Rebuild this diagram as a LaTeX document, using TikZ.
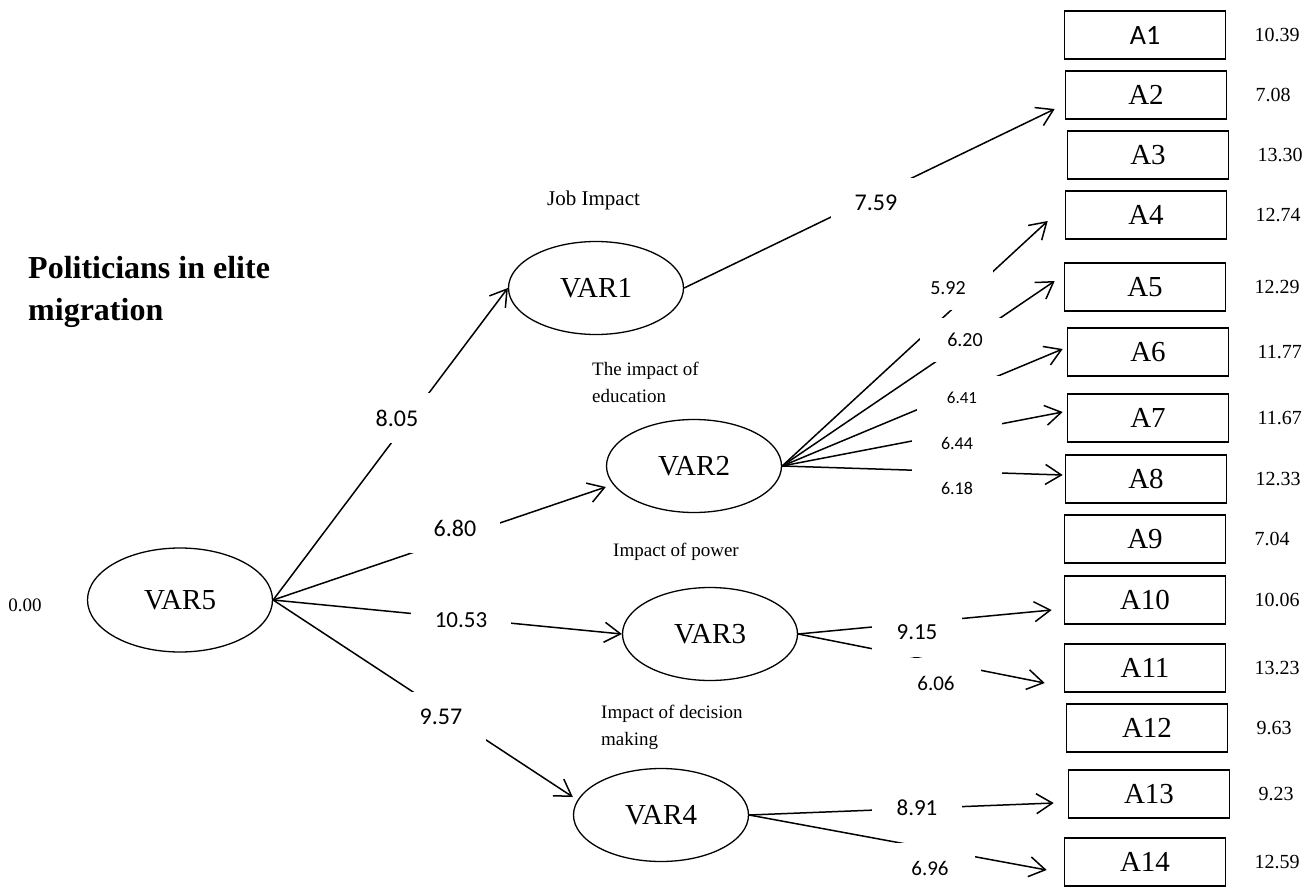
\documentclass[tikz,border=0pt]{standalone}
\usepackage{fontspec}
\setmainfont{Liberation Serif}
\newfontfamily\carlito{Carlito}
\usepackage{tikz}
\usetikzlibrary{shapes.geometric,arrows.meta,positioning}

\tikzset{
  latent/.style={ellipse, draw, line width=1.3pt, minimum width=175pt, minimum height=93pt, inner sep=0pt, font=\fontsize{29}{29}\selectfont},
  item/.style={rectangle, draw, line width=1.6pt, minimum width=161pt, minimum height=48pt, inner sep=0pt, font=\fontsize{29}{29}\selectfont},
  errv/.style={inner sep=0pt, font=\fontsize{20}{20}\selectfont},
  link/.style={line width=1.5pt, -{Straight Barb[length=16pt,width=20pt]}},
  coef/.style={fill=white, minimum width=90pt, minimum height=50pt, inner sep=0pt, font=\carlito\fontsize{#1}{#1}\selectfont},
  coef/.default=24,
  fan/.style={coef=#1, minimum height=44pt},
  fan/.default=19,
  tag/.style={anchor=west, align=left, inner sep=0pt, font=\fontsize{19}{27}\selectfont}
}

\begin{document}
\begin{tikzpicture}[x=1pt, y=-1pt, node distance=28pt]
    \useasboundingbox (0,0) rectangle (1314,888);

    % title and latent variables
    \node[anchor=west, align=left, inner sep=0pt, font=\bfseries\fontsize{32}{42}\selectfont] (title) at (28,292) {Politicians in elite\\migration};
    \node[inner sep=0pt, font=\fontsize{19}{19}\selectfont] (zero) at (25,605) {0.00};
    \node[latent, minimum width=185pt, minimum height=104pt] (var5) at (180,600) {VAR5};
    \node[latent] (var1) at (596,288) {VAR1};
    \node[latent] (var2) at (694,466) {VAR2};
    \node[latent] (var3) at (710,634) {VAR3};
    \node[latent] (var4) at (661,815) {VAR4};

    \node[tag, font=\fontsize{21}{27}\selectfont] (jobtag) at (547,200) {Job Impact};
    \node[tag] (edutag) at (592,382) {The impact of\\education};
    \node[tag] (powtag) at (613,552) {Impact of power};
    \node[tag] (dectag) at (601,727) {Impact of decision\\making};

    % observed items
    \node[item, font=\carlito\fontsize{28}{28}\selectfont] (a1) at (1145,35) {A1};
    \node[item] (a2) at (1146,95) {A2};
    \node[item] (a3) at (1148,155) {A3};
    \node[item] (a4) at (1146,215) {A4};
    \node[item] (a5) at (1145,287) {A5};
    \node[item] (a6) at (1148,352) {A6};
    \node[item] (a7) at (1148,418) {A7};
    \node[item] (a8) at (1146,479) {A8};
    \node[item] (a9) at (1145,539) {A9};
    \node[item] (a10) at (1145,600) {A10};
    \node[item] (a11) at (1145,668) {A11};
    \node[item] (a12) at (1147,728) {A12};
    \node[item] (a13) at (1149,794) {A13};
    \node[item] (a14) at (1145,862) {A14};

    \node[errv, right=of a1] (v1) {10.39};
    \node[errv, right=of a2] (v2) {7.08};
    \node[errv, right=of a3] (v3) {13.30};
    \node[errv, right=of a4] (v4) {12.74};
    \node[errv, right=of a5] (v5) {12.29};
    \node[errv, right=of a6] (v6) {11.77};
    \node[errv, right=of a7] (v7) {11.67};
    \node[errv, right=of a8] (v8) {12.33};
    \node[errv, right=of a9] (v9) {7.04};
    \node[errv, right=of a10] (v10) {10.06};
    \node[errv, right=of a11] (v11) {13.23};
    \node[errv, right=of a12] (v12) {9.63};
    \node[errv, right=of a13] (v13) {9.23};
    \node[errv, right=of a14] (v14) {12.59};

    % paths
    \draw[link] (var5.east) -- (var1.west);
    \draw[link] (var5.east) -- ([yshift=-21pt]var2.west);
    \draw[link] (var5.east) -- (var3.west);
    \draw[link] (var5.east) -- ([yshift=18pt]var4.west);
    \draw[link] (var1.east) -- ([xshift=-10pt,yshift=-14pt]a2.west);
    \draw[link] (var2.east) -- ([xshift=-17pt,yshift=-6pt]a4.west);
    \draw[link] (var2.east) -- ([xshift=-9pt,yshift=6pt]a5.west);
    \draw[link] (var2.east) -- ([xshift=-4pt,yshift=3pt]a6.west);
    \draw[link] (var2.east) -- ([xshift=-4pt,yshift=6pt]a7.west);
    \draw[link] (var2.east) -- ([xshift=-2pt,yshift=4pt]a8.west);
    \draw[link] (var3.east) -- ([xshift=-12pt,yshift=-10pt]a10.west);
    \draw[link] (var3.east) -- ([xshift=-19pt,yshift=-15pt]a11.west);
    \draw[link] (var4.east) -- ([xshift=-14pt,yshift=-9pt]a13.west);
    \draw[link] (var4.east) -- ([xshift=-17pt,yshift=-8pt]a14.west);

    % path coefficients
    \node[coef] (c805) at (397,418) {8.05};
    \node[coef] (c680) at (455,528) {6.80};
    \node[coef=23, minimum width=100pt] (c1053) at (461,620) {10.53};
    \node[coef] (c957) at (441,717) {9.57};
    \node[coef] (c759) at (876,203) {7.59};
    \node[fan=20] (c592) at (948,288) {5.92};
    \node[fan=20] (c620) at (965,340) {6.20};
    \node[fan=17] (c641) at (962,398) {6.41};
    \node[fan=18] (c644) at (957,443) {6.44};
    \node[fan=18] (c618) at (957,488) {6.18};
    \node[coef=23] (c915) at (917,632) {9.15};
    \node[coef=21] (c606) at (936,683) {6.06};
    \node[coef=23] (c891) at (917,808) {8.91};
    \node[coef=21] (c696) at (930,868) {6.96};
\end{tikzpicture}
\end{document}
